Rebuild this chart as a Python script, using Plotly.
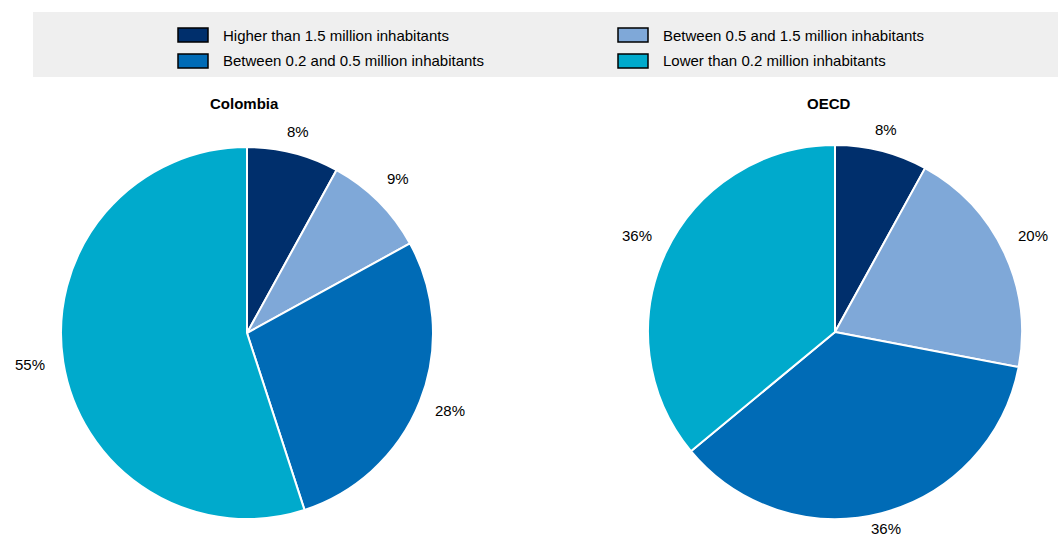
import math
import plotly.graph_objects as go

# Population size classes of functional urban areas
categories = [
    "Higher than 1.5 million inhabitants",
    "Between 0.5 and 1.5 million inhabitants",
    "Between 0.2 and 0.5 million inhabitants",
    "Lower than 0.2 million inhabitants",
]
colors = ["#002F6C", "#7FA8D8", "#006BB6", "#00AACC"]

colombia_values = [8, 9, 28, 55]
oecd_values = [8, 20, 36, 36]
panel_titles = ["Colombia", "OECD"]

W, H = 1058, 538
FONT = "Liberation Sans Narrow, Arial Narrow, Liberation Sans, Arial, sans-serif"


def px_x(x):
    return x / W


def px_y(y):
    return 1 - y / H


fig = go.Figure()

pie_domains = [
    dict(x=[px_x(61), px_x(433)], y=[px_y(519), px_y(147)]),
    dict(x=[px_x(648), px_x(1022)], y=[px_y(519), px_y(145)]),
]

for vals, dom in zip([colombia_values, oecd_values], pie_domains):
    fig.add_trace(go.Pie(
        labels=categories,
        values=vals,
        domain=dom,
        sort=False,
        direction="clockwise",
        rotation=0,
        marker=dict(colors=colors, line=dict(color="white", width=2)),
        textinfo="none",
        showlegend=False,
        hoverinfo="label+value",
    ))

    # Percentage labels set a little away from the rim, at each slice's mid-angle
    cx = (dom["x"][0] + dom["x"][1]) / 2 * W
    cy = (1 - (dom["y"][0] + dom["y"][1]) / 2) * H
    radius = min((dom["x"][1] - dom["x"][0]) * W, (dom["y"][1] - dom["y"][0]) * H) / 2
    total = sum(vals)
    cum = 0
    for v in vals:
        mid = 2 * math.pi * (cum + v / 2) / total
        cum += v
        s, c = math.sin(mid), math.cos(mid)
        r = radius + 14 + abs(s) * 20
        fig.add_annotation(
            x=px_x(cx + r * s), y=px_y(cy - r * c - 3), xref="paper", yref="paper",
            text=f"{v}%", showarrow=False,
            font=dict(family=FONT, size=15, color="#000000"),
            xanchor="center", yanchor="middle",
        )

# Panel titles
for title, tx in zip(panel_titles, [244, 829]):
    fig.add_annotation(
        x=px_x(tx), y=px_y(103), xref="paper", yref="paper",
        text=f"<b>{title}</b>", showarrow=False,
        font=dict(family=FONT, size=15, color="#000000"),
        xanchor="center", yanchor="middle",
    )

# Legend band
shapes = [dict(
    type="rect", xref="paper", yref="paper",
    x0=px_x(33), x1=px_x(1058), y0=px_y(77), y1=px_y(12),
    fillcolor="#EFEFEF", line=dict(width=0), layer="below",
)]

legend_cols = [178, 618]
legend_rows = [35, 61]
for i, (cat, col) in enumerate(zip(categories, colors)):
    lx = legend_cols[i % 2]
    ly = legend_rows[i // 2]
    shapes.append(dict(
        type="rect", xref="paper", yref="paper",
        x0=px_x(lx), x1=px_x(lx + 30), y0=px_y(ly + 7), y1=px_y(ly - 7),
        fillcolor=col, line=dict(color="#000000", width=1.5),
    ))
    fig.add_annotation(
        x=px_x(lx + 43), y=px_y(ly), xref="paper", yref="paper",
        text=cat, showarrow=False,
        font=dict(family=FONT, size=15, color="#000000"),
        xanchor="left", yanchor="middle",
    )

fig.update_layout(
    width=W, height=H,
    margin=dict(l=0, r=0, t=0, b=0),
    paper_bgcolor="white",
    plot_bgcolor="white",
    shapes=shapes,
    font=dict(family=FONT),
)

fig.write_html("out.html")
